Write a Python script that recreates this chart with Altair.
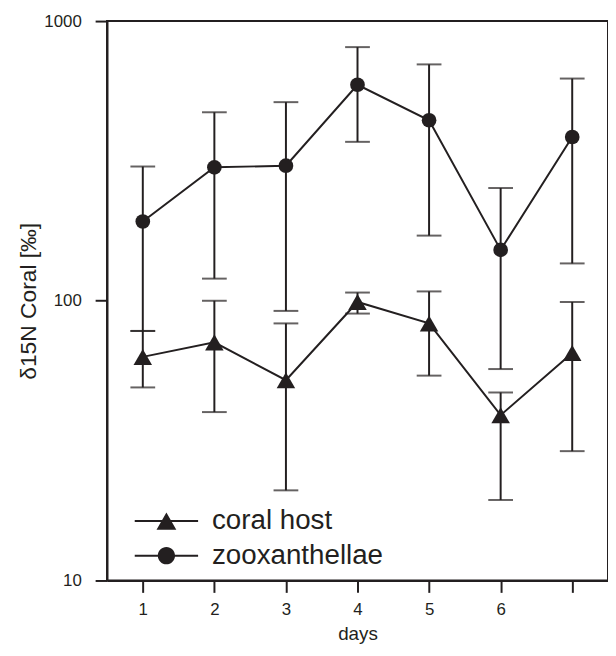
import altair as alt
import pandas as pd

days = [1, 2, 3, 4, 5, 6, 7]
zoox = [192, 300, 304, 592, 442, 152, 385]
zoox_lo = [78, 120, 92, 370, 171, 57, 136]
zoox_hi = [302, 472, 513, 807, 700, 253, 623]
host = [63, 71, 52, 99, 83, 39, 65]
host_lo = [49, 40, 21, 90, 54, 19.4, 29]
host_hi = [78, 100, 83, 107, 108, 47, 99]
series_names = ["coral host", "zooxanthellae"]
x_tick_values = [1, 2, 3, 4, 5, 6, 7]
y_tick_values = [10, 100, 1000]

rows = []
for i, d in enumerate(days):
    rows.append({"series": "coral host", "day": d, "value": host[i], "lo": host_lo[i], "hi": host_hi[i]})
    rows.append({"series": "zooxanthellae", "day": d, "value": zoox[i], "lo": zoox_lo[i], "hi": zoox_hi[i]})
df = pd.DataFrame(rows)

INK = "#231f20"
FONT = "Liberation Sans"

xscale = alt.Scale(domain=[0.5, 7.5], nice=False, zero=False)
yscale = alt.Scale(type="log", domain=[10, 1000], nice=False)

x_enc = alt.X("day:Q", scale=xscale,
              axis=alt.Axis(values=x_tick_values, title="days", format="d",
                            labelExpr="datum.value <= 6 ? datum.label : ''"))
y_axis = alt.Axis(values=y_tick_values, title="δ15N Coral [‰]", format="d")

base = alt.Chart(df)

rules = base.mark_rule(color=INK, strokeWidth=2).encode(
    x=x_enc,
    y=alt.Y("lo:Q", scale=yscale, axis=y_axis),
    y2="hi:Q",
)

caps = base.transform_fold(["lo", "hi"], as_=["bound", "bval"]).mark_tick(
    color=INK, orient="horizontal", size=25, thickness=2
).encode(
    x="day:Q",
    y=alt.Y("bval:Q", scale=yscale),
)

lines = base.mark_line(color=INK, strokeWidth=2).encode(
    x="day:Q",
    y=alt.Y("value:Q", scale=yscale),
    detail="series:N",
)

points = base.mark_point(filled=True, color=INK, opacity=1).encode(
    x="day:Q",
    y=alt.Y("value:Q", scale=yscale),
    shape=alt.Shape("series:N", scale=alt.Scale(domain=series_names, range=["triangle-up", "circle"]), legend=None),
    size=alt.Size("series:N", scale=alt.Scale(domain=series_names, range=[350, 220]), legend=None),
)

tri_path = "M-3.2,-0.1H3.2V0.1H-3.2Z M0,-0.87L1,0.87L-1,0.87Z"
circ_path = "M-3.2,-0.1H3.2V0.1H-3.2Z M-0.87,0A0.87,0.87 0 1 1 0.87,0A0.87,0.87 0 1 1 -0.87,0Z"

legend_layer = base.transform_filter("false").mark_point(filled=True, color=INK, size=400, opacity=1).encode(
    x="day:Q",
    y=alt.Y("value:Q", scale=yscale),
    shape=alt.Shape(
        "series:N",
        scale=alt.Scale(domain=series_names, range=[tri_path, circ_path]),
        legend=alt.Legend(
            title=None, orient="none", legendX=46, legendY=491,
            labelFontSize=28, labelFont=FONT, labelColor=INK, labelLimit=0,
            symbolSize=400, symbolFillColor=INK, symbolStrokeWidth=0,
            labelOffset=32, rowPadding=7, padding=0,
        ),
    ),
)

chart = alt.layer(rules, caps, lines, points, legend_layer).resolve_scale(
    shape="independent"
).properties(
    width=506, height=565,
    autosize=alt.AutoSizeParams(type="none"),
    padding={"left": 100, "top": 10, "right": 0, "bottom": 65},
).configure_view(
    stroke=INK, strokeWidth=2
).configure_axis(
    grid=False, domainColor=INK, domainWidth=2, tickColor=INK, tickWidth=2, tickSize=12,
    labelFont=FONT, labelColor=INK, labelFontSize=17, titleFont=FONT, titleColor=INK,
    titleFontWeight="normal",
).configure_axisX(
    labelPadding=9, titlePadding=8, titleFontSize=19,
).configure_axisY(
    labelPadding=14, titlePadding=3, titleFontSize=23,
)

chart.save("out.html", embed_options={"renderer": "svg", "actions": False})
